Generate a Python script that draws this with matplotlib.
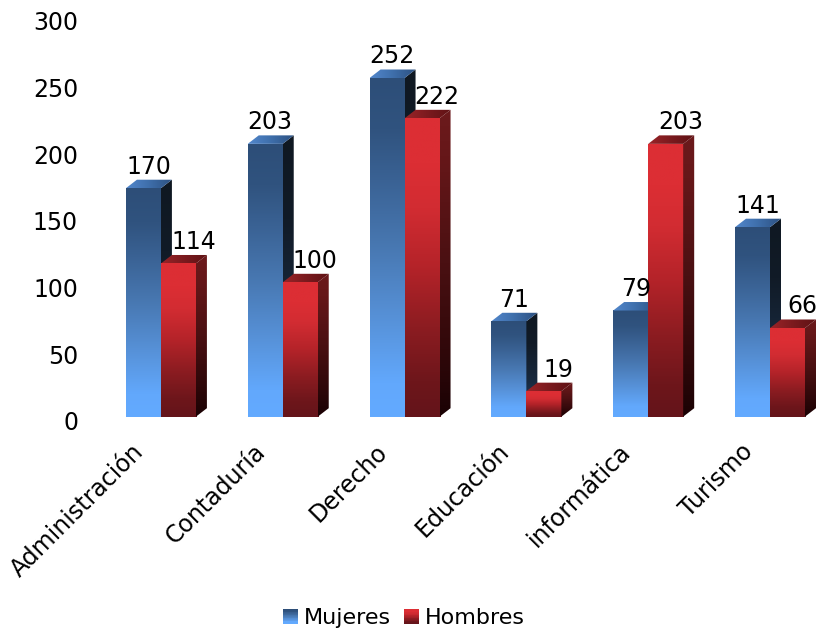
import numpy as np
import matplotlib
matplotlib.use('Agg')
import matplotlib.pyplot as plt
from matplotlib.patches import Polygon, Rectangle
from matplotlib.colors import LinearSegmentedColormap
from matplotlib.legend_handler import HandlerBase
import matplotlib.transforms as mtrans

categories = ['Administración', 'Contaduría', 'Derecho', 'Educación', 'informática', 'Turismo']
mujeres = [170, 203, 252, 71, 79, 141]
hombres = [114, 100, 222, 19, 203, 66]
y_ticks = [0, 50, 100, 150, 200, 250, 300]
series_names = ['Mujeres', 'Hombres']

W, H, DPI = 822, 633, 100
plt.rcParams['font.family'] = ['DejaVu Sans']
FS = 17
fig = plt.figure(figsize=(W / DPI, H / DPI), dpi=DPI)


def fx(px):
    return px / W


def fy(py):
    return 1 - py / H


# axis used only for the value tick labels (back wall scale)
axl = fig.add_axes([fx(100), fy(421), fx(722), (421 - 21) / H])
axl.set_ylim(0, 300)
axl.set_yticks(y_ticks)
axl.set_xticks([])
for s in axl.spines.values():
    s.set_visible(False)
axl.patch.set_visible(False)
axl.tick_params(axis='y', length=0, pad=22 * 72 / DPI, labelsize=FS)

# main axis for bars (front face scale)
PX_PER_UNIT = 1.344
PX_PER_CAT = 121.8
ax = fig.add_axes([fx(100), fy(416.7), fx(722), 300 * PX_PER_UNIT / H])
ax.patch.set_visible(False)
xmax = (822 - 161) / PX_PER_CAT
ax.set_xlim(-0.5, xmax)
ax.set_ylim(0, 300)
ax.axis('off')

BW = 35 / PX_PER_CAT
DDX = 11 / PX_PER_CAT
DDY = 8.5 / PX_PER_UNIT

styles = {
    'Mujeres': dict(
        front=[(0.0, '#63AAFF'), (0.10, '#62A8FC'), (0.30, '#5690D6'),
               (0.50, '#4878B2'), (0.70, '#3A6294'), (0.85, '#30537F'), (1.0, '#2D4E78')],
        side=[(0.0, '#27456E'), (0.35, '#18293E'), (0.7, '#111B27'), (1.0, '#0F1822')],
        top=[(0.0, '#5287CC'), (0.5, '#3E6EAA'), (1.0, '#2C5080')],
    ),
    'Hombres': dict(
        front=[(0.0, '#64141A'), (0.12, '#6E161B'), (0.30, '#8C1C21'),
               (0.50, '#B42329'), (0.70, '#D22C32'), (0.85, '#DC2E34'), (1.0, '#DC2E34')],
        side=[(0.0, '#1A0204'), (0.15, '#2A0608'), (0.5, '#4A1012'), (0.85, '#661719'), (1.0, '#6C1A1C')],
        top=[(0.0, '#9A2428'), (0.5, '#7A1A1E'), (1.0, '#5E1214')],
    ),
}


def grad_fill(x0, x1, y0, y1, colors, clip_xy=None, horizontal=False, z=2):
    cmap = LinearSegmentedColormap.from_list('g', colors)
    if horizontal:
        arr = np.linspace(0, 1, 256).reshape(1, -1)
    else:
        arr = np.linspace(0, 1, 256).reshape(-1, 1)
    im = ax.imshow(arr, cmap=cmap, extent=[x0, x1, y0, y1], origin='lower',
                   aspect='auto', interpolation='bilinear', zorder=z, clip_on=True)
    if clip_xy is not None:
        poly = Polygon(clip_xy, closed=True, transform=ax.transData,
                       facecolor='none', edgecolor='none')
        im.set_clip_path(poly)
    return im


def draw_bar(x0, v, st, z):
    x1 = x0 + BW
    # front face
    grad_fill(x0, x1, 0, v, st['front'], z=z)
    # side face
    side = [(x1, 0), (x1 + DDX, DDY), (x1 + DDX, v + DDY), (x1, v)]
    grad_fill(x1, x1 + DDX, 0, v + DDY, st['side'], clip_xy=side, z=z)
    # top face
    top = [(x0, v), (x1, v), (x1 + DDX, v + DDY), (x0 + DDX, v + DDY)]
    grad_fill(x0, x1 + DDX, v, v + DDY, st['top'], clip_xy=top, horizontal=True, z=z)


lab_off = {'Mujeres': 5 / PX_PER_CAT, 'Hombres': 15 / PX_PER_CAT}
for i in range(len(categories)):
    for name, vals, x0, z in (('Mujeres', mujeres, i - BW, 2), ('Hombres', hombres, i, 3)):
        v = vals[i]
        draw_bar(x0, v, styles[name], z)
        ax.text(x0 + BW / 2 + lab_off[name], v + DDY + 4.5, str(v), ha='center',
                va='baseline', fontsize=FS, color='#000000', zorder=5, clip_on=False)

ax.set_xlim(-0.5, xmax)
ax.set_ylim(0, 300)

# category labels
off = mtrans.ScaledTranslation(-16 / DPI, -36 / DPI, fig.dpi_scale_trans)
for i, cat in enumerate(categories):
    ax.text(i, 0, cat, transform=ax.transData + off, rotation=45, ha='right',
            va='baseline', rotation_mode='anchor', fontsize=FS, clip_on=False)


class GradHandler(HandlerBase):
    def __init__(self, colors):
        super().__init__()
        self.colors = colors

    def create_artists(self, legend, orig_handle, xdescent, ydescent, width,
                       height, fontsize, trans):
        cmap = LinearSegmentedColormap.from_list('h', self.colors)
        n = 20
        arts = []
        for k in range(n):
            r = Rectangle((-xdescent, -ydescent + height * k / n), width,
                          height / n * 1.05, facecolor=cmap(k / (n - 1)),
                          edgecolor='none', transform=trans)
            arts.append(r)
        return arts


h1 = Rectangle((0, 0), 1, 1)
h2 = Rectangle((0, 0), 1, 1)
fig.legend([h1, h2], series_names, loc='center',
           bbox_to_anchor=(404 / W, 1 - 618 / H), ncol=2, frameon=False,
           fontsize=16, handlelength=0.65, handleheight=0.65,
           handletextpad=0.27, columnspacing=0.6,
           handler_map={h1: GradHandler(styles['Mujeres']['front']),
                        h2: GradHandler(styles['Hombres']['front'])})

fig.savefig('out.png', dpi=DPI)
